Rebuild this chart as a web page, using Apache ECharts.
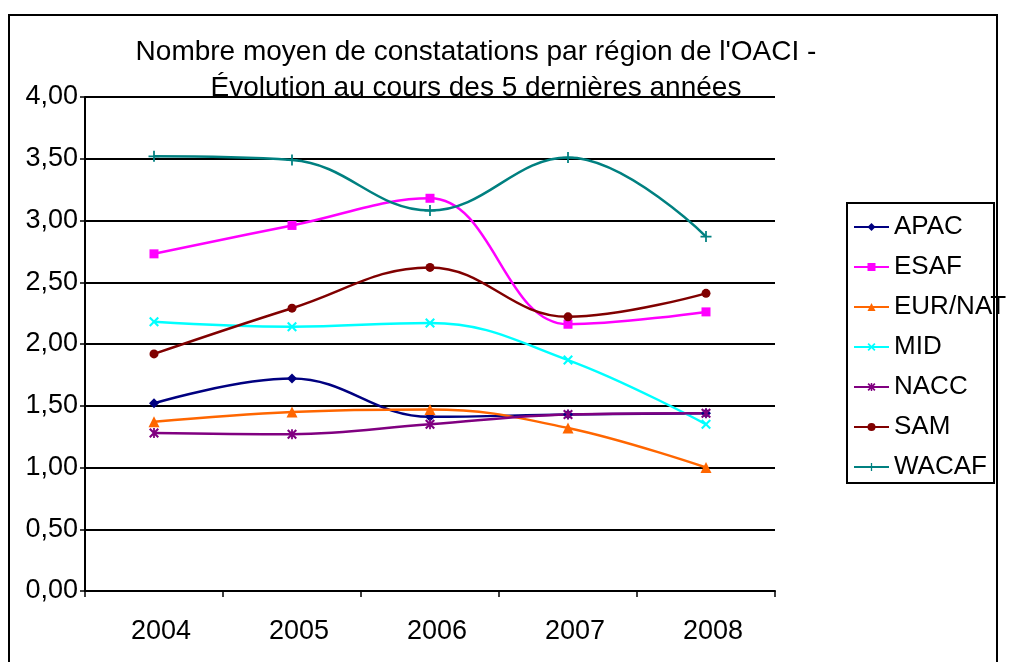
<!DOCTYPE html>
<html>
<head>
<meta charset="utf-8">
<script src="https://cdn.jsdelivr.net/npm/echarts@6/dist/echarts.min.js"></script>
<style>html,body{margin:0;padding:0;background:#fff;}#c{width:1013px;height:662px;}</style>
</head>
<body>
<div id="c"></div>
<script>
const years = ['2004', '2005', '2006', '2007', '2008'];
const APAC = [1.52, 1.72, 1.41, 1.43, 1.44];
const ESAF = [2.73, 2.96, 3.18, 2.16, 2.26];
const EURNAT = [1.37, 1.45, 1.47, 1.32, 1.00];
const MID = [2.18, 2.14, 2.17, 1.87, 1.35];
const NACC = [1.28, 1.27, 1.35, 1.43, 1.44];
const SAM = [1.92, 2.29, 2.62, 2.22, 2.41];
const WACAF = [3.52, 3.49, 3.08, 3.51, 2.87];
const seriesNames = ['APAC', 'ESAF', 'EUR/NAT', 'MID', 'NACC', 'SAM', 'WACAF'];
const seriesValues = [APAC, ESAF, EURNAT, MID, NACC, SAM, WACAF];
const colors = ['#000080', '#FF00FF', '#FF6600', '#00FFFF', '#800080', '#800000', '#008080'];
const yTicks = ['0,00','0,50','1,00','1,50','2,00','2,50','3,00','3,50','4,00'];

const X_PATH = 'path://M0,1.5 L1.5,0 L5,3.5 L8.5,0 L10,1.5 L6.5,5 L10,8.5 L8.5,10 L5,6.5 L1.5,10 L0,8.5 L3.5,5 Z';
const PLUS_PATH = 'path://M4.2,0 H5.8 V4.2 H10 V5.8 H5.8 V10 H4.2 V5.8 H0 V4.2 H4.2 Z';
const AST_PATH = 'path://M0,1.5 L1.5,0 L5,3.5 L8.5,0 L10,1.5 L6.5,5 L10,8.5 L8.5,10 L5,6.5 L1.5,10 L0,8.5 L3.5,5 Z M4.1,0 H5.9 V10 H4.1 Z';
const symbols = ['diamond', 'rect', 'triangle', X_PATH, AST_PATH, 'circle', PLUS_PATH];
const symSizes = [10, 9, 11, 10, 10, 9, 11];

const FONT = '"Liberation Sans", Arial, sans-serif';
const chart = echarts.init(document.getElementById('c'));
chart.setOption({
  animation: false,
  backgroundColor: '#ffffff',
  title: {
    text: "Nombre moyen de constatations par région de l'OACI -\nÉvolution au cours des 5 dernières années",
    left: 476, top: 34, padding: 0, textAlign: 'center',
    textStyle: { fontFamily: FONT, fontSize: 28, fontWeight: 'normal', color: '#000', lineHeight: 36 }
  },
  legend: {
    orient: 'vertical', left: 853, top: 214, padding: 0,
    itemWidth: 35, itemHeight: 10, itemGap: 14,
    textStyle: { fontFamily: FONT, fontSize: 26, color: '#000', lineHeight: 26 },
    data: seriesNames
  },
  grid: { left: 85, right: 238, top: 97, bottom: 71 },
  xAxis: {
    type: 'category', data: years, boundaryGap: true,
    axisLine: { lineStyle: { color: '#000', width: 2 } },
    axisTick: { show: true, length: 6, lineStyle: { color: '#000', width: 1.5 } },
    axisLabel: { fontFamily: FONT, fontSize: 27, color: '#000', margin: 27, padding: [0, 0, 0, 14] }
  },
  yAxis: {
    type: 'value', min: 0, max: 4, interval: 0.5,
    axisLine: { show: true, lineStyle: { color: '#000', width: 2 } },
    axisTick: { show: true, length: 5, lineStyle: { color: '#000', width: 1.5 } },
    splitLine: { show: true, lineStyle: { color: '#000', width: 2 } },
    axisLabel: {
      fontFamily: FONT, fontSize: 27, color: '#000', margin: 7,
      formatter: function (v) { return yTicks[Math.round(v / 0.5)]; }
    }
  },
  graphic: [
    { type: 'rect', shape: { x: 9, y: 15, width: 988, height: 660 },
      style: { fill: 'none', stroke: '#000', lineWidth: 2 }, z: 100, silent: true },
    { type: 'rect', shape: { x: 847, y: 203, width: 147, height: 280 },
      style: { fill: 'none', stroke: '#000', lineWidth: 2 }, z: 100, silent: true }
  ],
  series: seriesNames.map(function (name, i) {
    return {
      name: name, type: 'line', data: seriesValues[i], smooth: 0.4,
      symbol: symbols[i], symbolSize: symSizes[i], symbolKeepAspect: true,
      showAllSymbol: true,
      lineStyle: { color: colors[i], width: 2.5 },
      itemStyle: { color: colors[i] },
      emphasis: { disabled: true }
    };
  })
});
</script>
</body>
</html>
